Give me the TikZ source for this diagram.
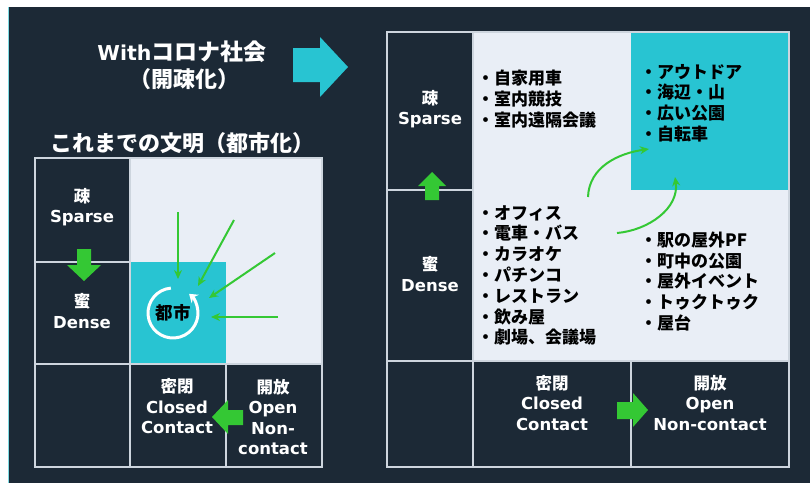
\documentclass[tikz,border=0pt]{standalone}
\usepackage{fontspec}
\setmainfont{DejaVu Sans}
\newfontfamily\jp{Noto Sans CJK JP}
\usetikzlibrary{arrows.meta}
\definecolor{bgdark}{RGB}{28,41,54}
\definecolor{lightfill}{RGB}{233,238,246}
\definecolor{cyanfill}{RGB}{40,196,210}
\definecolor{greenarr}{RGB}{52,200,52}
\definecolor{gridline}{RGB}{205,213,222}
\begin{document}
\begin{tikzpicture}[x=1pt,y=-1pt,
  gridl/.style={draw=gridline, line width=1.1pt},
  wlab/.style={text=white, align=center, inner sep=0pt, font=\bfseries\fontsize{16.5}{20.5}\selectfont},
  titletxt/.style={text=white, inner sep=0pt, font=\bfseries\fontsize{22}{26}\selectfont},
  itemlist/.style={text=black, align=left, anchor=west, inner sep=0pt, font=\jp\bfseries\fontsize{17}{20.8}\selectfont},
  garrow/.style={draw=greenarr, line width=2pt, -{Stealth[length=9pt,width=8pt]}},
  bigfill/.style={fill=greenarr}
]
\useasboundingbox (0,0) rectangle (810,483);
\fill[white] (0,0) rectangle (810,483);
\fill[bgdark] (8,7) rectangle (810,483);
\draw[cyanfill!60, line width=1pt] (8.5,7) -- (8.5,483);

% titles
\node[titletxt] (t1) at (182,52) {{\fontsize{20.5}{24}\selectfont With}{\jp\fontsize{23}{26}\selectfont コロナ社会}};
\node[titletxt] (t2) at (184,79) {\jp （開疎化）};
\node[titletxt] (t3) at (182,143) {\jp これまでの文明（都市化）};
\fill[cyanfill] (293,48) -- (320,48) -- (320,37) -- (348,67) -- (320,97) -- (320,82) -- (293,82) -- cycle;

% left grid
\fill[lightfill] (130,158) rectangle (322,364);
\fill[cyanfill] (130,262) rectangle (226,364);
\draw[gridl] (35,158) rectangle (322,467);
\draw[gridl] (130,158) -- (130,467);
\draw[gridl] (35,262) -- (130,262);
\draw[gridl] (35,364) -- (322,364);
\draw[gridl] (226,364) -- (226,467);

\node[wlab] (lsp) at (82,207) {{\jp 疎}\\Sparse};
\node[wlab] (lde) at (82,311) {{\jp 蜜}\\Dense};
\node[wlab] (lcl) at (177,406.5) {{\jp 密閉}\\Closed\\Contact};
\node[wlab] (lop) at (273,417) {{\jp 開放}\\Open\\Non-\\contact};

\fill[bigfill] (77,249) -- (91,249) -- (91,265) -- (101,265) -- (84,281) -- (67,265) -- (77,265) -- cycle;
\fill[bigfill] (243,410) -- (228,410) -- (228,400) -- (212,417) -- (228,434) -- (228,425) -- (243,425) -- cycle;

% city circle
\node[text=black, inner sep=0pt, font=\jp\bfseries\fontsize{17.5}{20}\selectfont] (city) at (173,313) {都市};
\draw[white, line width=3pt, -{Stealth[length=8pt,width=11pt]}] (city.center) ++(-95:25) arc[start angle=-95, end angle=-410, radius=25];

\coordinate (a1s) at (178,212); \coordinate (a1e) at (178,279);
\coordinate (a2s) at (234,220); \coordinate (a2e) at (198,286);
\coordinate (a3s) at (275,253); \coordinate (a3e) at (209,298);
\coordinate (a4s) at (278,317); \coordinate (a4e) at (211,317);
\draw[garrow] (a1s) -- (a1e);
\draw[garrow] (a2s) -- (a2e);
\draw[garrow] (a3s) -- (a3e);
\draw[garrow] (a4s) -- (a4e);

% right grid
\fill[lightfill] (473,32) rectangle (789,361);
\fill[cyanfill] (631,32) rectangle (789,190);
\draw[gridl] (387,32) rectangle (789,467);
\draw[gridl] (473,32) -- (473,467);
\draw[gridl] (387,190) -- (473,190);
\draw[gridl] (387,361) -- (789,361);
\draw[gridl] (631,361) -- (631,467);

\node[wlab] (rsp) at (430,109) {{\jp 疎}\\Sparse};
\node[wlab] (rde) at (430,274) {{\jp 蜜}\\Dense};
\node[wlab] (rcl) at (552,403) {{\jp 密閉}\\Closed\\Contact};
\node[wlab] (rop) at (710,403) {{\jp 開放}\\Open\\Non-contact};

\fill[bigfill] (425,200) -- (439,200) -- (439,186) -- (446,186) -- (432,172) -- (418,186) -- (425,186) -- cycle;
\fill[bigfill] (617,402) -- (633,402) -- (633,393) -- (648,410) -- (633,427) -- (633,419) -- (617,419) -- cycle;

\node[itemlist] (list1) at (477,99) {・自家用車\\・室内競技\\・室内遠隔会議};
\node[itemlist] (list2) at (640,103) {・アウトドア\\・海辺・山\\・広い公園\\・自転車};
\node[itemlist] (list3) at (477,275.5) {・オフィス\\・電車・バス\\・カラオケ\\・パチンコ\\・レストラン\\・飲み屋\\・劇場、会議場};
\node[itemlist] (list4) at (640,281.5) {・駅の屋外PF\\・町中の公園\\・屋外イベント\\・トゥクトゥク\\・屋台};

\coordinate (c1s) at (588,197); \coordinate (c1e) at (649,149);
\coordinate (c2s) at (617,233); \coordinate (c2e) at (675,177);
\draw[garrow] (c1s) to[out=88, in=188] (c1e);
\draw[garrow] (c2s) to[out=5, in=-82] (c2e);
\end{tikzpicture}
\end{document}
